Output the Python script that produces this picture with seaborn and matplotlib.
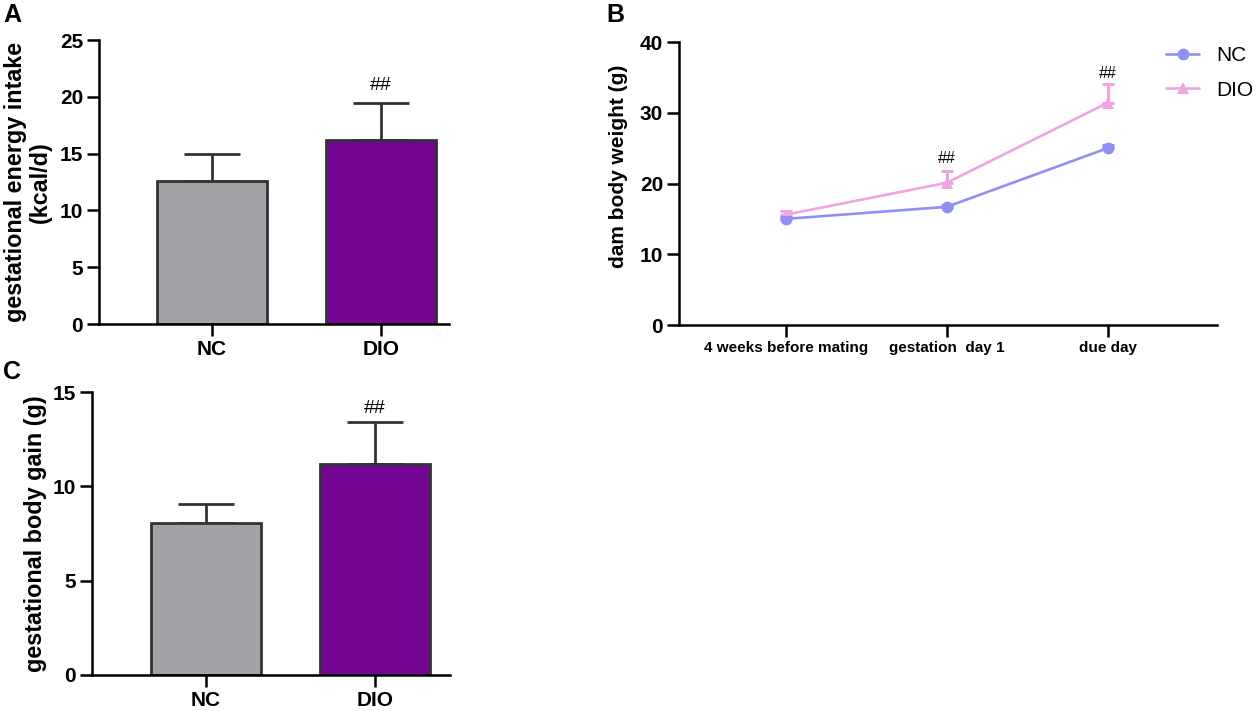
import pandas as pd
import matplotlib.pyplot as plt
import seaborn as sns
from matplotlib.lines import Line2D

# data
groups = ['NC', 'DIO']
energy_mean = [12.6, 16.2]
energy_sd = [2.35, 3.25]
gain_mean = [8.05, 11.2]
gain_sd = [1.0, 2.2]

timepoints = ['4 weeks before mating', 'gestation  day 1', 'due day']
nc_weight = [15.0, 16.7, 25.0]
nc_sd = [0.3, 0.3, 0.4]
dio_weight = [15.6, 20.1, 31.4]
dio_sd = [0.5, 1.7, 2.6]

bar_colors = ['#A2A1A6', '#740594']
nc_color = '#8F8FF5'
dio_color = '#F2A3E3'
edge = '#333333'

sns.set_style('ticks')
plt.rcParams['font.family'] = ['Liberation Sans', 'DejaVu Sans']
plt.rcParams['axes.linewidth'] = 1.8
plt.rcParams['axes.edgecolor'] = 'black'
plt.rcParams['text.color'] = 'black'
plt.rcParams['axes.labelcolor'] = 'black'
plt.rcParams['xtick.color'] = 'black'
plt.rcParams['ytick.color'] = 'black'

W, H = 1257, 711
fig = plt.figure(figsize=(W / 100, H / 100), dpi=100)

def px_axes(x0, x1, ytop, ybot):
    return fig.add_axes([x0 / W, 1 - ybot / H, (x1 - x0) / W, (ybot - ytop) / H])

def style_axes(ax):
    sns.despine(ax=ax)
    ax.tick_params(axis='both', width=1.8, length=8.5, labelsize=15, pad=3)
    for lab in ax.get_yticklabels() + ax.get_xticklabels():
        lab.set_fontweight('bold')

def bar_panel(ax, means, sds, ymax, step, ylabel, xlim, hash_y, label_x):
    sns.barplot(x=groups, y=means, hue=groups, palette=bar_colors, saturation=1, width=0.65,
                edgecolor=edge, linewidth=2, errorbar=None, legend=False, ax=ax)
    ax.errorbar([0, 1], means, yerr=[[0, 0], sds], fmt='none', ecolor=edge,
                elinewidth=2, capsize=20, capthick=2, zorder=0)
    ax.set_ylim(0, ymax)
    ax.set_yticks(range(0, ymax + 1, step))
    ax.set_xlim(*xlim)
    ax.set_ylabel(ylabel, fontsize=16.8, fontweight='bold', linespacing=1.1)
    ax.yaxis.set_label_coords(label_x, 0.5)
    ax.text(1, hash_y, '##', ha='center', va='center', fontsize=14)
    style_axes(ax)

# Panel A
axA = px_axes(99, 449, 40, 324)
bar_panel(axA, energy_mean, energy_sd, 25, 5,
          'gestational energy intake\n(kcal/d)', (-0.669, 1.402), 21.0, -0.135)

# Panel C
axC = px_axes(92, 450, 392, 675)
bar_panel(axC, gain_mean, gain_sd, 15, 5,
          'gestational body gain (g)', (-0.675, 1.444), 14.1, -0.126)

# Panel B
df = pd.DataFrame({
    'time': timepoints * 2,
    'weight': nc_weight + dio_weight,
    'group': ['NC'] * 3 + ['DIO'] * 3,
})
axB = px_axes(679, 1217, 42, 325)
sns.lineplot(data=df, x='time', y='weight', hue='group', style='group',
             palette={'NC': nc_color, 'DIO': dio_color}, markers={'NC': 'o', 'DIO': '^'},
             dashes=False, sort=False, errorbar=None, linewidth=1.9, markersize=8.5,
             markeredgewidth=0, legend=False, ax=axB)
axB.errorbar(range(3), dio_weight, yerr=[[0, 0, 0], dio_sd], fmt='none',
             ecolor=dio_color, elinewidth=2.2, capsize=4, capthick=2.2)
axB.errorbar(range(3), nc_weight, yerr=[[0, 0, 0], nc_sd], fmt='none',
             ecolor=nc_color, elinewidth=2.2, capsize=4, capthick=2.2)
axB.set_ylim(0, 40)
axB.set_yticks(range(0, 41, 10))
axB.set_xlim(-0.665, 2.68)
axB.set_xlabel('')
axB.set_ylabel('dam body weight (g)', fontsize=15, fontweight='bold')
axB.yaxis.set_label_coords(-0.095, 0.56)
style_axes(axB)
axB.tick_params(axis='x', labelsize=11)
axB.text(1, 23.5, '##', ha='center', va='center', fontsize=11.5)
axB.text(2, 35.5, '##', ha='center', va='center', fontsize=11.5)

handles = [Line2D([], [], color=nc_color, marker='o', lw=1.9, ms=8.5, mew=0),
           Line2D([], [], color=dio_color, marker='^', lw=1.9, ms=8.5, mew=0)]
fig.legend(handles, groups, loc='upper left', bbox_to_anchor=(1166 / W, 1 - 46 / H),
           frameon=False, fontsize=15, handlelength=1.6, handletextpad=0.8,
           labelspacing=0.75, borderpad=0, borderaxespad=0)

# panel letters
for letter, x, y in [('A', 3, 3), ('B', 606, 3), ('C', 3, 360)]:
    fig.text(x / W, 1 - y / H, letter, fontsize=18, fontweight='bold', va='top', ha='left')

fig.savefig('out.png', dpi=100)
